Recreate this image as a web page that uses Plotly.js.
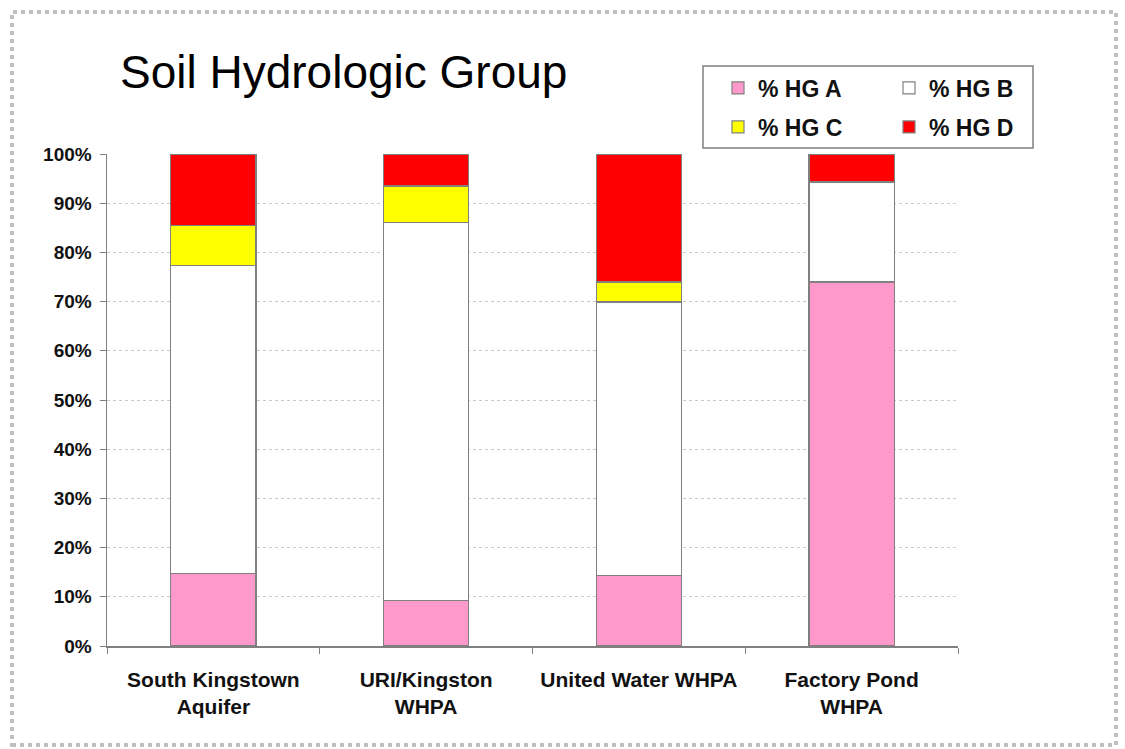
<!DOCTYPE html>
<html>
<head>
<meta charset="utf-8">
<script src="https://cdn.plot.ly/plotly-3.0.1.min.js"></script>
<style>html,body{margin:0;padding:0;background:#fff;}</style>
</head>
<body>
<div id="chart" style="width:1125px;height:749px;"></div>
<script>
var categories = ["South Kingstown<br>Aquifer", "URI/Kingston<br>WHPA", "United Water WHPA", "Factory Pond<br>WHPA"];
var hgA = [14.8, 9.3, 14.4, 74.0];
var hgB = [62.6, 76.7, 55.5, 20.3];
var hgC = [8.0, 7.5, 4.1, 0.0];
var hgD = [14.6, 6.5, 26.0, 5.7];
var seriesNames = ["% HG A", "% HG B", "% HG C", "% HG D"];
var seriesColors = ["#ff99cc", "#ffffff", "#ffff00", "#ff0000"];
var seriesValues = [hgA, hgB, hgC, hgD];
var legendRows = ["legend", "legend", "legend2", "legend2"];

var traces = seriesValues.map(function (vals, i) {
  return {
    type: "bar",
    name: seriesNames[i],
    x: categories,
    y: vals,
    legend: legendRows[i],
    marker: {color: seriesColors[i], line: {color: "#808080", width: 1.2}},
    hoverinfo: "name+y"
  };
});

var W = 1125, H = 749;
var L = 107, R = 958, T = 154, B = 646;
function px(x) { return (x - L) / (R - L); }
function py(y) { return (B - y) / (B - T); }

function legendRow(yc) {
  return {
    orientation: "h",
    xref: "container", yref: "container",
    x: 718 / W, xanchor: "left",
    y: 1 - yc / H, yanchor: "middle",
    bgcolor: "rgba(0,0,0,0)", borderwidth: 0,
    font: {size: 23, weight: "bold", color: "#111"},
    entrywidth: 126, entrywidthmode: "pixels",
    traceorder: "normal"
  };
}

var layout = {
  width: W, height: H,
  margin: {l: L, r: W - R, t: T, b: H - B, pad: 0},
  paper_bgcolor: "#ffffff",
  plot_bgcolor: "#ffffff",
  barmode: "stack",
  bargap: 0.6,
  font: {family: "Arial, 'Liberation Sans', sans-serif", color: "#000"},
  title: {
    text: "Soil Hydrologic Group",
    xref: "container", yref: "container",
    x: 120 / W, xanchor: "left",
    y: 1 - 72 / H, yanchor: "middle",
    font: {size: 46, color: "#000", family: "Arial, 'Liberation Sans', sans-serif"}
  },
  xaxis: {
    type: "category",
    showline: true, linecolor: "#808080", linewidth: 1.5,
    ticks: "outside", tickson: "boundaries", ticklen: 6, tickcolor: "#808080",
    tickfont: {size: 21, weight: "bold", color: "#111"},
    ticklabelstandoff: 14,
    showgrid: false, fixedrange: true
  },
  yaxis: {
    range: [0, 100], dtick: 10, ticksuffix: "%",
    showline: true, linecolor: "#808080", linewidth: 1.5,
    ticks: "outside", ticklen: 6, tickcolor: "#808080",
    tickfont: {size: 19, weight: "bold", color: "#111"},
    ticklabelstandoff: 4,
    showgrid: true, gridcolor: "#c8c8c8", griddash: "dot", gridwidth: 1,
    zeroline: false, fixedrange: true
  },
  showlegend: true,
  legend: legendRow(88),
  legend2: legendRow(127),
  shapes: [{
    type: "rect", xref: "paper", yref: "paper",
    x0: px(12), x1: px(1116), y0: py(745), y1: py(12),
    line: {color: "#c0c0c0", width: 4, dash: "dot"},
    layer: "below"
  }, {
    type: "rect", xref: "paper", yref: "paper",
    x0: px(703), x1: px(1033), y0: py(148), y1: py(66),
    line: {color: "#808080", width: 1.5},
    fillcolor: "#ffffff",
    layer: "below"
  }]
};

Plotly.newPlot("chart", traces, layout, {displayModeBar: false, staticPlot: true});
</script>
</body>
</html>
